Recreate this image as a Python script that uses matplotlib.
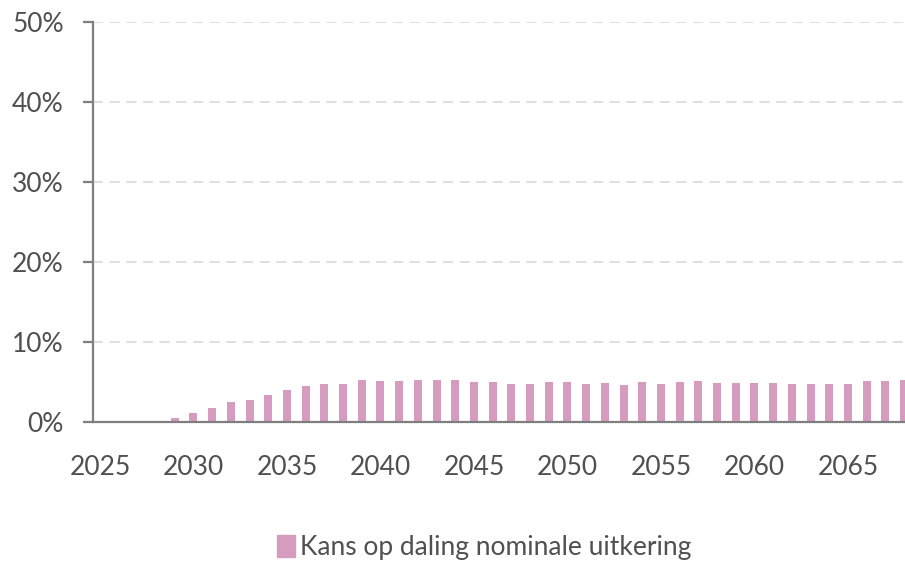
import numpy as np
import matplotlib.pyplot as plt
from matplotlib import font_manager

# data (percentages)
years = list(range(2025, 2069))
kans = [0, 0, 0, 0, 0.5, 1.1, 1.7, 2.5, 2.8, 3.4,
        4.0, 4.5, 4.7, 4.8, 5.3, 5.1, 5.1, 5.2, 5.3, 5.2,
        5.0, 4.95, 4.75, 4.75, 4.95, 4.95, 4.8, 4.9, 4.6, 4.95,
        4.8, 4.95, 5.1, 4.9, 4.85, 4.85, 4.85, 4.8, 4.8, 4.8,
        4.8, 5.15, 5.15, 5.3]
label = 'Kans op daling nominale uitkering'
yticks = [0, 10, 20, 30, 40, 50]
xticks = list(range(2025, 2066, 5))

names = {f.name for f in font_manager.fontManager.ttflist}
fam = 'Liberation Sans Narrow' if 'Liberation Sans Narrow' in names else 'Lato'
plt.rcParams['font.family'] = [fam, 'DejaVu Sans']

pink = '#d59cc0'
grey_txt = '#505050'
grey_line = '#7f7f7f'

fig = plt.figure(figsize=(9.05, 5.63), dpi=100)
ax = fig.add_axes([0.1028, 0.2504, 0.8972, 0.7106])

ax.bar(years, kans, width=0.43, color=pink, zorder=3)

ax.set_ylim(0, 50)
ax.set_xlim(2024.63, 2068.05)
ax.set_yticks(yticks)
ax.set_yticklabels([f'{v}%' for v in yticks])
ax.set_xticks(xticks)
ax.set_xticklabels([str(y) for y in xticks])

ax.grid(axis='y', color='#d9d9d9', linestyle=(0, (6, 4)), linewidth=1.2, zorder=0)
for s in ['top', 'right']:
    ax.spines[s].set_visible(False)
for s in ['left', 'bottom']:
    ax.spines[s].set_color(grey_line)
    ax.spines[s].set_linewidth(1.6)
    ax.spines[s].set_zorder(4)

ax.tick_params(axis='y', length=7, width=1.6, color=grey_line, pad=14,
               labelsize=19, labelcolor=grey_txt)
ax.tick_params(axis='x', length=0, pad=24, labelsize=19, labelcolor=grey_txt)

handle = plt.Rectangle((0, 0), 1, 1, color=pink)
fig.legend([handle], [label], loc='center', bbox_to_anchor=(0.535, 0.027),
           frameon=False, fontsize=19, labelcolor=grey_txt,
           handlelength=0.7, handleheight=0.9, handletextpad=0.2)

fig.savefig('out.png', dpi=100)
